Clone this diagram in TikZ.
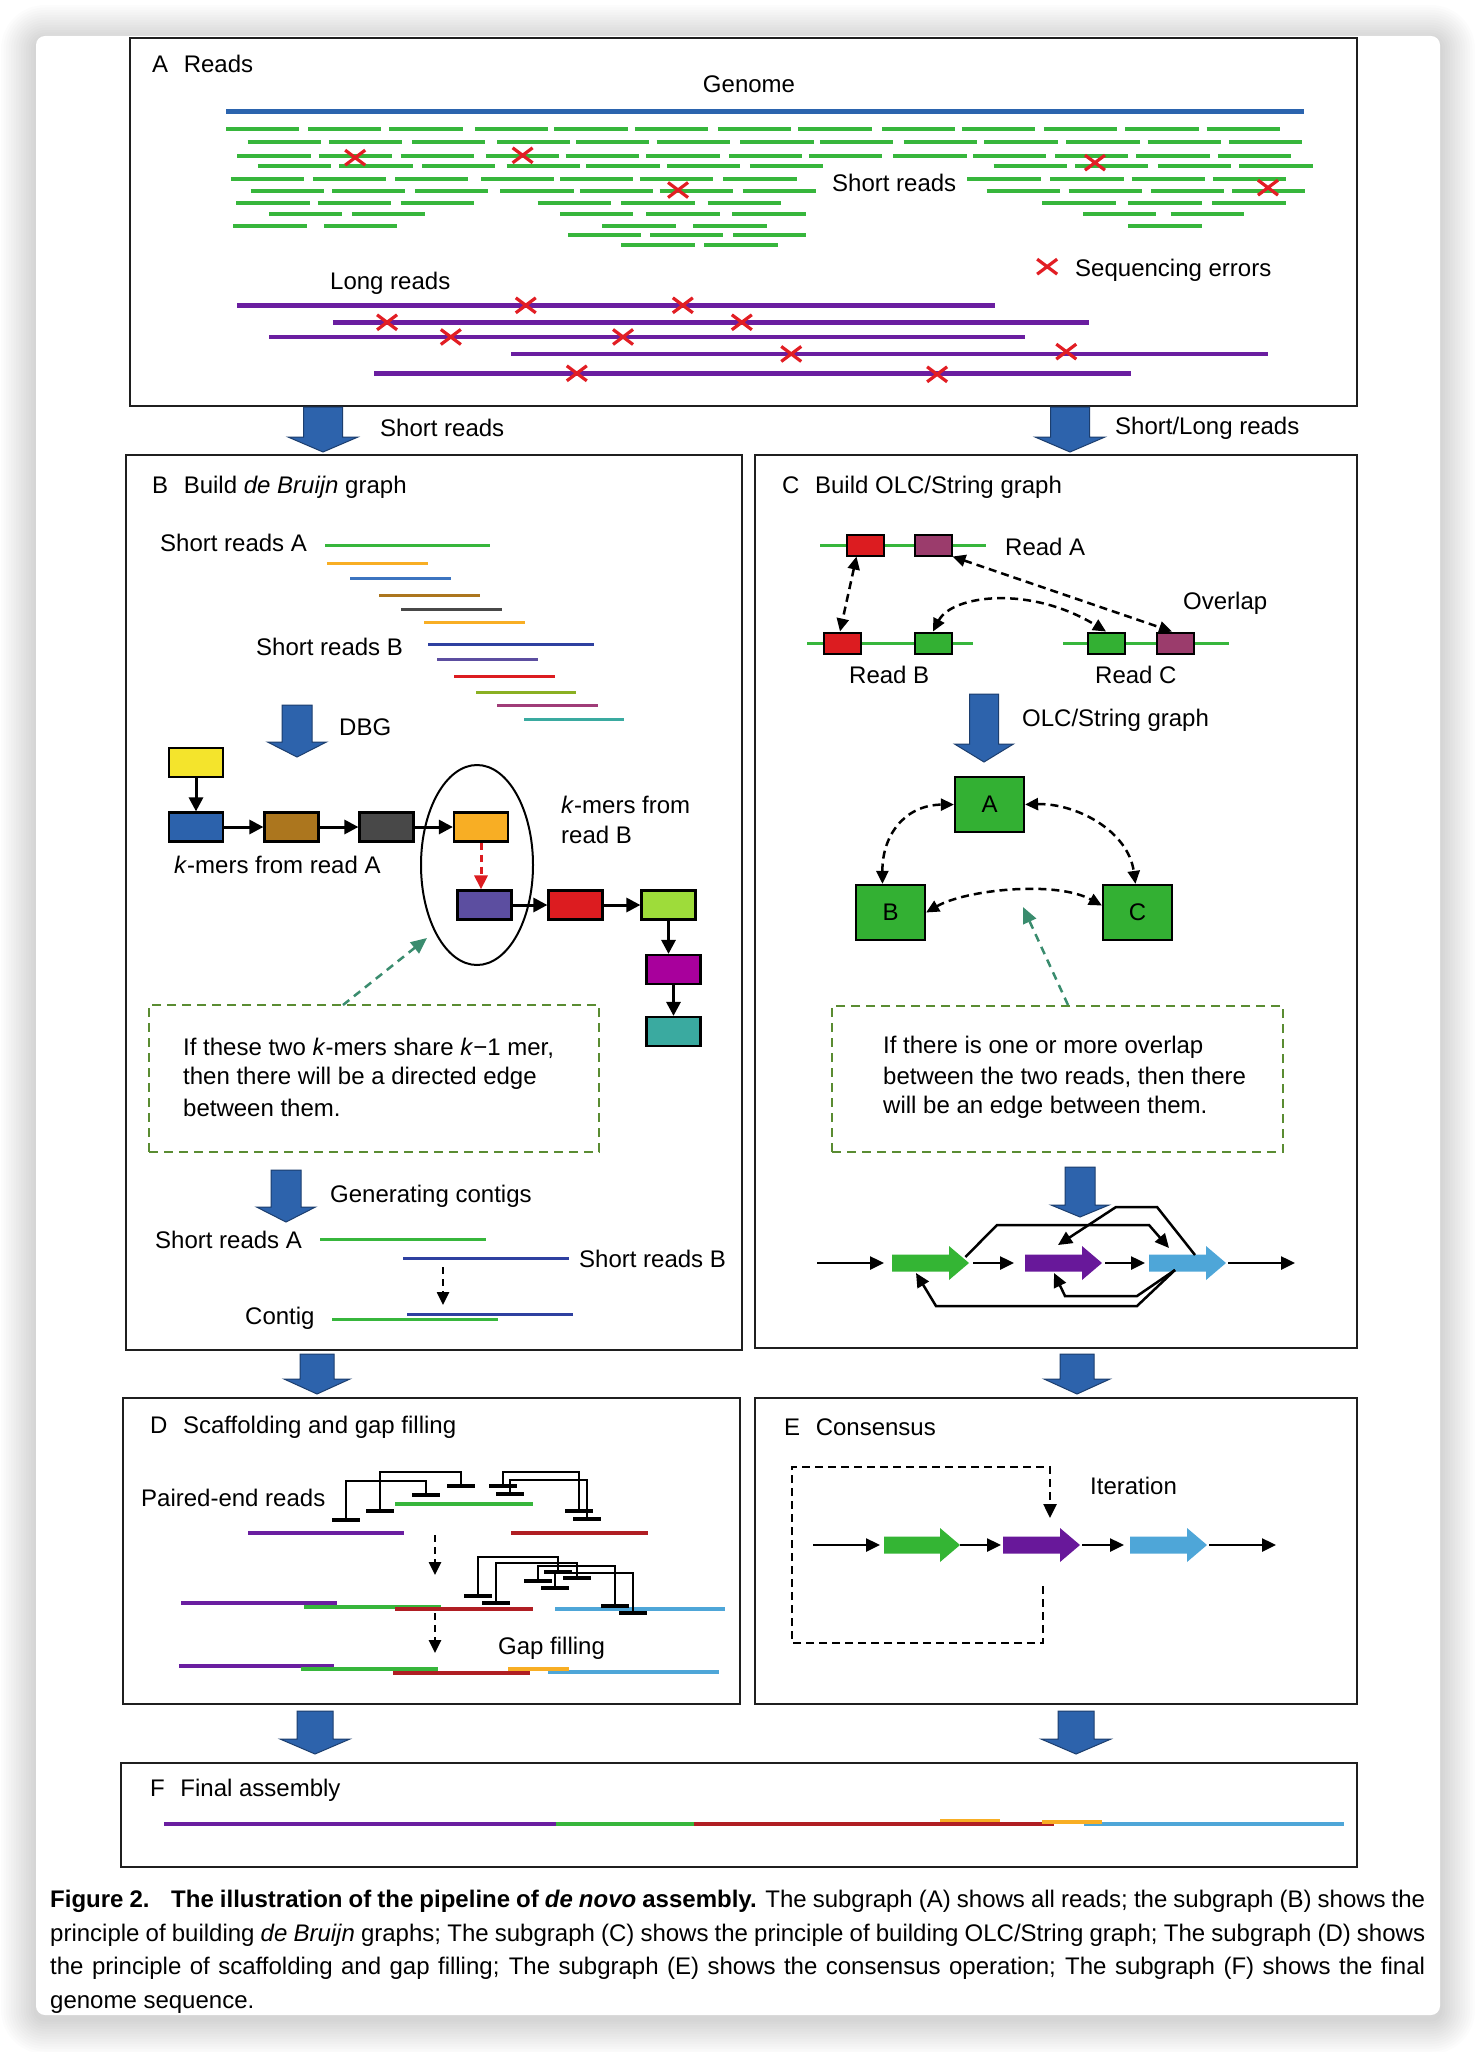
\documentclass[tikz,border=0pt]{standalone}
\usepackage{fontspec}
\setmainfont{Liberation Sans}
\usetikzlibrary{arrows.meta,shapes.geometric}
\definecolor{gen}{RGB}{43,100,174}
\definecolor{sgreen}{RGB}{55,182,60}
\definecolor{lpurple}{RGB}{106,30,160}
\definecolor{xred}{RGB}{226,30,36}
\definecolor{barrow}{RGB}{45,99,172}
\definecolor{barrowd}{RGB}{28,62,110}
\definecolor{kyellow}{RGB}{244,228,44}
\definecolor{kblue}{RGB}{44,98,172}
\definecolor{kbrown}{RGB}{172,118,30}
\definecolor{kgray}{RGB}{72,72,72}
\definecolor{korange}{RGB}{248,174,36}
\definecolor{kpurple}{RGB}{92,78,160}
\definecolor{kred}{RGB}{220,28,32}
\definecolor{klgreen}{RGB}{158,220,58}
\definecolor{kmag}{RGB}{168,0,156}
\definecolor{kteal}{RGB}{58,170,160}
\definecolor{rdblue}{RGB}{46,64,160}
\definecolor{rlblue}{RGB}{60,116,192}
\definecolor{rolive}{RGB}{138,176,34}
\definecolor{rmag}{RGB}{160,60,120}
\definecolor{olcpurple}{RGB}{155,60,108}
\definecolor{ngreen}{RGB}{51,176,51}
\definecolor{fgreen}{RGB}{52,181,52}
\definecolor{fpurple}{RGB}{104,24,154}
\definecolor{fblue}{RGB}{78,166,216}
\definecolor{dred}{RGB}{176,30,35}
\definecolor{dashgreen}{RGB}{90,140,50}
\definecolor{ptrgreen}{RGB}{58,140,110}
\tikzset{
  lbl/.style={anchor=west, inner sep=0pt},
  panel/.style={draw=black!88, line width=2.5pt},
  blk/.style={fill=barrow, draw=barrowd, line width=1pt},
  sread/.style={sgreen, line width=4pt},
  lread/.style={lpurple, line width=4.5pt},
  xmk/.pic={\draw[xred, line width=3.2pt] (-10pt,-7.5pt)--(10pt,7.5pt) (-10pt,7.5pt)--(10pt,-7.5pt);},
  kmer/.style={draw, line width=2.2pt, minimum width=54pt, minimum height=29pt, inner sep=0pt},
  karr/.style={line width=3pt, -{Triangle[length=14pt,width=14pt]}},
  seg/.style={line width=3pt},
  olcbox/.style={draw, line width=2pt, minimum width=37pt, minimum height=21pt, inner sep=0pt},
  dnode/.style={draw, line width=2.2pt, fill=ngreen, minimum width=69pt, minimum height=55pt, inner sep=0pt},
  dasharr/.style={line width=2.5pt, dash pattern=on 8pt off 5pt, {Triangle[length=13pt,width=12pt]}-{Triangle[length=13pt,width=12pt]}},
  dashone/.style={line width=2.5pt, dash pattern=on 7pt off 5pt, -{Triangle[length=13pt,width=12pt]}},
  dbox/.style={draw=dashgreen, line width=2pt, dash pattern=on 9pt off 6pt, inner sep=0pt},
  ptr/.style={ptrgreen, line width=2.5pt, dash pattern=on 8pt off 6pt, -{Triangle[length=16pt,width=14pt]}},
  farr/.style={line width=2.5pt, -{Triangle[length=14pt,width=13pt]}},
  fslot/.style={inner sep=0pt, minimum height=34pt, anchor=west},
}
\newcommand\blkarrow[6]{%
  \filldraw[blk] (#1-#5,#2) -- (#1+#5,#2) -- (#1+#5,#3) -- (#1+#6,#3) -- (#1,#4) -- (#1-#6,#3) -- (#1-#5,#3) -- cycle;}
\newcommand\flowarr[5]{%
  \node[fslot, minimum width=#4pt] (#1) at (#2,#3) {};
  \fill[#5] (#1.west) +(0,-8.5) -- +({#4-20},-8.5) -- +({#4-20},-17) -- +(#4,0) -- +({#4-20},17) -- +({#4-20},8.5) -- +(0,8.5) -- cycle;}
\newcommand\pairlink[5]{%
  \draw[line width=2pt] (#1,#2) -- (#1,#3) -- (#4,#3) -- (#4,#5);
  \draw[line width=4.5pt] (#1-14,#2) -- (#1+14,#2) (#4-14,#5) -- (#4+14,#5);}
\begin{document}
\begin{tikzpicture}[x=1pt,y=-1pt,font=\fontsize{24}{29}\selectfont]
\useasboundingbox (0,0) rectangle (1476,2052);
\fill[white] (0,0) rectangle (1476,2052);
% card with shadow
\foreach \i [evaluate=\i as \r using 9+\i*2.5] in {1,...,14}
  \fill[black, opacity=0.013, rounded corners=\r pt] (36-\i*2.5,40-\i*2.5) rectangle (1440+\i*2.5,2019+\i*2.5);
\fill[white, rounded corners=9pt] (36,36) rectangle (1440,2015);

% ================= Panel A =================
\draw[panel] (130,38) rectangle (1357,406);
\node[lbl] (tA) at (152,64) {A\hspace{0.65em}Reads};
\node (tGen) at (749,84) {Genome};
\draw[gen, line width=5pt] (226,112) -- (1304,112);
\begin{scope}[shift={(120pt,-30pt)}, x=0.7972pt, y=-0.3333pt]
  \foreach \yy/\xl in {
    297/{133,236,338,445,545,646,750,851,956,1056,1159,1261,1363},
    335/{160,262,366,473,572,673,778,878,983,1084,1187,1289,1391},
    377/{147,249,352,459,559,660,764,864,970,1070,1173,1275,1377},
    408/{173,275,379,485,585,686,790,1096,1198,1302,1404},
    447/{139,242,345,453,552,652,757,1063,1167,1269,1371},
    484/{164,266,370,477,577,677,781,1087,1190,1293,1395},
    519/{146,248,352,524,629,737,1157,1265,1370},
    553/{187,291,552,660,768,1208,1318},
    588/{142,256,605,719,1265},
    614/{562,665,769},
    646/{629,733}}
    {\foreach \xx in \xl {\draw[sread] (\xx,\yy) -- ++(92,0);}}
  \foreach \xa/\xb/\yy in {147/1097/826, 267/1216/877, 187/1135/921, 491/1440/972, 319/1268/1030}
    {\draw[lread] (\xa,\yy) -- (\xb,\yy);}
  \foreach \xx/\yy in {295/383, 505/376, 700/480, 1223/398, 1440/473,
     509/826, 706/826, 335/877, 780/877, 415/921, 631/921, 842/972, 1187/965, 573/1030, 1025/1033, 1163/710}
    {\pic at (\xx,\yy) {xmk};}
\end{scope}
\node[lbl] (tSR) at (832,183) {Short reads};
\node[lbl] (tLR) at (330,283) {Long reads};
\node[lbl] (tSE) at (1075,270) {Sequencing errors};

% arrows A -> B, C
\blkarrow{323}{407}{437}{452}{19.5}{35}
\blkarrow{1070}{407}{437}{452}{19.5}{35}
\node[lbl] (tAB) at (380,428) {Short reads};
\node[lbl] (tAC) at (1115,428) {Short/Long reads};

% ================= Panel B =================
\draw[panel] (126,455) rectangle (742,1350);
\node[lbl] (tB) at (152,487) {B\hspace{0.65em}Build \textit{de Bruijn} graph};
\node[lbl] (tSRA) at (160,543) {Short reads A};
\draw[seg, sgreen] (325,545) -- (490,545);
\draw[seg, korange] (327,563) -- (428,563);
\draw[seg, rlblue] (350,578) -- (451,578);
\draw[seg, kbrown] (379,595) -- (480,595);
\draw[seg, kgray] (401,609) -- (502,609);
\draw[seg, korange] (424,622) -- (525,622);
\node[lbl] (tSRB) at (256,647) {Short reads B};
\draw[seg, rdblue] (428,644) -- (594,644);
\draw[seg, kpurple] (437,659) -- (538,659);
\draw[seg, kred] (454,676) -- (555,676);
\draw[seg, rolive] (476,692) -- (576,692);
\draw[seg, rmag] (497,705) -- (598,705);
\draw[seg, kteal] (524,719) -- (624,719);
\blkarrow{297}{705}{742}{757}{15}{29.5}
\node[lbl] (tDBG) at (339,727) {DBG};

\node[kmer, fill=kyellow] (ky) at (196,762.5) {};
\node[kmer, fill=kblue] (kb) at (196,827) {};
\node[kmer, fill=kbrown] (kbr) at (291.5,827) {};
\node[kmer, fill=kgray] (kg) at (386.5,827) {};
\node[kmer, fill=korange] (ko) at (481,827) {};
\node[kmer, fill=kpurple] (kp) at (484.5,905) {};
\node[kmer, fill=kred] (kr) at (575.5,905) {};
\node[kmer, fill=klgreen] (klg) at (668.5,905) {};
\node[kmer, fill=kmag] (km) at (673.5,969.5) {};
\node[kmer, fill=kteal] (kt) at (673.5,1031.5) {};
\draw[karr] (ky) -- (kb);
\draw[karr] (kb) -- (kbr);
\draw[karr] (kbr) -- (kg);
\draw[karr] (kg) -- (ko);
\draw[line width=3pt, kred, dash pattern=on 7pt off 5pt, -{Triangle[length=14pt,width=13pt]}] (ko.south) -- (ko.south |- kp.north);
\draw[karr] (kp) -- (kr);
\draw[karr] (kr) -- (klg);
\draw[karr] (klg.south) -- (klg.south |- km.north);
\draw[karr] (km.south) -- (km.south |- kt.north);
\node[draw, ellipse, line width=2pt, minimum width=112pt, minimum height=200pt, inner sep=0pt] (ell) at (477,865) {};
\node[lbl] (tKA) at (174,865) {\textit{k}-mers from read A};
\node[lbl] (tKB1) at (561,805) {\textit{k}-mers from};
\node[lbl] (tKB2) at (561,835) {read B};

\node[dbox, minimum width=450pt, minimum height=147pt] (boxB) at (374,1078.5) {};
\coordinate (pB1) at (343,1005);
\coordinate (pB2) at (427,938);
\draw[ptr] (pB1) -- (pB2);
\node[lbl] (tB1) at (183,1048) {If these two \textit{k}-mers share \textit{k}−1 mer,};
\node[lbl] (tB2) at (183,1078) {then there will be a directed edge};
\node[lbl] (tB3) at (183,1108) {between them.};

\blkarrow{286}{1170}{1207}{1222}{15}{29.5}
\node[lbl] (tGC) at (330,1196) {Generating contigs};
\node[lbl] (tSRA2) at (155,1240) {Short reads A};
\draw[seg, sgreen] (320,1239) -- (486,1239);
\draw[seg, rdblue] (403,1258) -- (569,1258);
\node[lbl] (tSRB2) at (579,1259) {Short reads B};
\coordinate (cB1) at (443,1267);
\coordinate (cB2) at (443,1305);
\draw[dashone] (cB1) -- (cB2);
\node[lbl] (tCon) at (245,1318) {Contig};
\draw[seg, rdblue] (407,1314) -- (573,1314);
\draw[seg, sgreen] (332,1319) -- (498,1319);

% ================= Panel C =================
\draw[panel] (755,455) rectangle (1357,1348);
\node[lbl] (tC) at (782,487) {C\hspace{0.65em}Build OLC/String graph};
\draw[seg, sgreen] (820,545) -- (986,545);
\draw[seg, sgreen] (807,643) -- (973,643);
\draw[seg, sgreen] (1063,643) -- (1229,643);
\node[olcbox, fill=kred] (ra1) at (865.5,545) {};
\node[olcbox, fill=olcpurple] (ra2) at (933,545) {};
\node[olcbox, fill=kred] (rb1) at (842,643) {};
\node[olcbox, fill=ngreen] (rb2) at (933,643) {};
\node[olcbox, fill=ngreen] (rc1) at (1106,643) {};
\node[olcbox, fill=olcpurple] (rc2) at (1175,643) {};
\node[lbl] (tRA) at (1005,547) {Read A};
\node[lbl] (tRB) at (849,675) {Read B};
\node[lbl] (tRC) at (1095,675) {Read C};
\node[lbl] (tOv) at (1183,603) {Overlap};
\draw[dasharr] ([xshift=-9pt]ra1.south) -- ([xshift=-2pt]rb1.north);
\draw[dasharr] (ra2.south east) -- ([xshift=-3pt]rc2.north);
\draw[dasharr] (rb2.north) .. controls (952,595) and (1030,585) .. (rc1.north);

\blkarrow{984}{694}{744}{762}{14.5}{29.5}
\node[lbl] (tOLC) at (1022,720) {OLC/String graph};
\node[dnode] (nA) at (989.5,804.5) {A};
\node[dnode] (nB) at (890.5,912.5) {B};
\node[dnode] (nC) at (1137.5,912.5) {C};
\draw[dasharr] ([xshift=-8pt]nB.north) .. controls (882,835) and (905,805) .. (nA.west);
\draw[dasharr] (nA.east) .. controls (1075,803) and (1128,830) .. ([xshift=-2pt]nC.north);
\draw[dasharr] (nB.east) .. controls (965,890) and (1055,880) .. ([yshift=7pt]nC.west);

\node[dbox, minimum width=451pt, minimum height=146pt] (boxC) at (1057.5,1079) {};
\coordinate (pC1) at (1068,1005);
\coordinate (pC2) at (1023,907);
\draw[ptr] (pC1) -- (pC2);
\node[lbl] (tC1) at (883,1047) {If there is one or more overlap};
\node[lbl] (tC2) at (883,1077) {between the two reads, then there};
\node[lbl] (tC3) at (883,1107) {will be an edge between them.};

\blkarrow{1080}{1167}{1205}{1217}{15}{29}
\flowarr{cg}{892}{1263}{77}{fgreen}
\flowarr{cp}{1025}{1263}{77}{fpurple}
\flowarr{cb}{1149}{1263}{77}{fblue}
\coordinate (cin) at (817,1263);
\coordinate (cout) at (1295,1263);
\draw[farr, shorten >=8pt] (cin) -- (cg.west);
\draw[farr, shorten <=4pt, shorten >=11pt] (cg.east) -- (cp.west);
\draw[farr, shorten <=3pt, shorten >=4pt] (cp.east) -- (cb.west);
\draw[farr, shorten <=2pt] (cb.east) -- (cout);
\draw[farr] ([shift={(-4pt,6pt)}]cg.east) -- (997,1225) -- (1149,1225) -- ([shift={(20pt,15pt)}]cb.west);
\draw[farr] ([shift={(46pt,8pt)}]cb.west) -- (1157,1207) -- (1116,1207) -- ([shift={(33pt,18pt)}]cp.west);
\draw[farr] ([shift={(26pt,-7pt)}]cb.west) -- (1137,1296) -- (1065,1296) -- ([shift={(29pt,-10pt)}]cp.west);
\draw[farr] ([shift={(26pt,-7pt)}]cb.west) -- (1137,1306) -- (936,1306) -- ([shift={(24pt,-10pt)}]cg.west);

% arrows B->D, C->E
\blkarrow{317}{1354}{1379}{1394}{17}{33}
\blkarrow{1077}{1354}{1379}{1394}{17}{33}

% ================= Panel D =================
\draw[panel] (123,1398) rectangle (740,1704);
\node[lbl] (tD) at (150,1427) {D\hspace{0.65em}Scaffolding and gap filling};
\node[lbl] (tPE) at (141,1498) {Paired-end reads};
\draw[sgreen, line width=4pt] (395,1504) -- (533,1504);
\draw[lpurple, line width=4pt] (248,1533) -- (404,1533);
\draw[dred, line width=4pt] (511,1533) -- (648,1533);
\pairlink{346}{1520}{1481}{426}{1495}
\pairlink{380}{1511}{1472}{461}{1486}
\pairlink{503}{1486}{1472}{579}{1511}
\pairlink{510}{1494}{1480}{587}{1519}
\coordinate (dA1) at (435,1535);
\coordinate (dA2) at (435,1575);
\draw[dashone] (dA1) -- (dA2);
\draw[lpurple, line width=4pt] (181,1603) -- (337,1603);
\draw[sgreen, line width=4pt] (304,1607) -- (441,1607);
\draw[dred, line width=4pt] (395,1609) -- (533,1609);
\draw[fblue, line width=4pt] (555,1609) -- (725,1609);
\pairlink{478}{1596}{1557}{558}{1572}
\pairlink{496}{1603}{1563}{577}{1578}
\pairlink{538}{1581}{1566}{615}{1606}
\pairlink{555}{1588}{1573}{633}{1613}
\coordinate (dB1) at (435,1613);
\coordinate (dB2) at (435,1653);
\draw[dashone] (dB1) -- (dB2);
\node[lbl] (tGF) at (498,1648) {Gap filling};
\draw[lpurple, line width=4pt] (179,1666) -- (334,1666);
\draw[sgreen, line width=4pt] (301,1669) -- (438,1669);
\draw[dred, line width=4pt] (393,1673) -- (530,1673);
\draw[fblue, line width=4pt] (548,1672) -- (719,1672);
\draw[korange, line width=4pt] (508,1669) -- (569,1669);

% ================= Panel E =================
\draw[panel] (755,1398) rectangle (1357,1704);
\node[lbl] (tE) at (784,1427) {E\hspace{0.65em}Consensus};
\node[lbl] (tIt) at (1090,1486) {Iteration};
\flowarr{eg}{884}{1545}{76}{fgreen}
\flowarr{ep}{1003}{1545}{77}{fpurple}
\flowarr{eb}{1130}{1545}{77}{fblue}
\coordinate (ein) at (813,1545);
\coordinate (eout) at (1276,1545);
\draw[farr, shorten >=4pt] (ein) -- (eg.west);
\draw[farr, shorten >=2pt] (eg.east) -- (ep.west);
\draw[farr, shorten <=2pt, shorten >=6pt] (ep.east) -- (eb.west);
\draw[farr, shorten <=2pt] (eb.east) -- (eout);
\coordinate (it1) at (1043,1586);
\coordinate (it2) at (1050,1518);
\draw[line width=2.5pt, dash pattern=on 8pt off 5pt, -{Triangle[length=14pt,width=13pt]}]
  (it1) -- (1043,1643) -- (792,1643) -- (792,1467) -- (1050,1467) -- (it2);

% arrows D->F, E->F
\blkarrow{315}{1711}{1739}{1754}{18}{35}
\blkarrow{1076}{1711}{1739}{1754}{18}{35}

% ================= Panel F =================
\draw[panel] (121,1763) rectangle (1357,1867);
\node[lbl] (tF) at (150,1790) {F\hspace{0.65em}Final assembly};
\draw[lpurple, line width=4.5pt] (164,1824) -- (556,1824);
\draw[sgreen, line width=4.5pt] (556,1824) -- (694,1824);
\draw[dred, line width=4.5pt] (694,1824) -- (1054,1824);
\draw[fblue, line width=4.5pt] (1084,1824) -- (1344,1824);
\draw[korange, line width=3pt] (940,1820) -- (1000,1820);
\draw[korange, line width=4.5pt] (1042,1822) -- (1102,1822);

% ================= Caption =================
\node[anchor=base west, inner sep=0pt] (cap1) at (50,1907) {\makebox[1375pt][s]{\textbf{Figure 2.}\hspace{0.9em}\textbf{The illustration of the pipeline of \textit{de novo} assembly.} The subgraph (A) shows all reads; the subgraph (B) shows the}};
\node[anchor=base west, inner sep=0pt] (cap2) at (50,1941) {\makebox[1375pt][s]{principle of building \textit{de Bruijn} graphs; The subgraph (C) shows the principle of building OLC/String graph; The subgraph (D) shows}};
\node[anchor=base west, inner sep=0pt] (cap3) at (50,1974) {\makebox[1375pt][s]{the principle of scaffolding and gap filling; The subgraph (E) shows the consensus operation; The subgraph (F) shows the final}};
\node[anchor=base west, inner sep=0pt] (cap4) at (50,2008) {genome sequence.};
\end{tikzpicture}
\end{document}
